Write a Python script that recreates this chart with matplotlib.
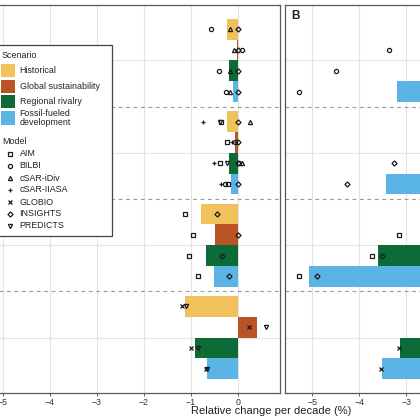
import matplotlib
matplotlib.use("Agg")
import matplotlib.pyplot as plt
from matplotlib.patches import Rectangle
from matplotlib.lines import Line2D

plt.rcParams['font.family'] = ['Liberation Sans', 'DejaVu Sans']

# ---------------- data ----------------
groups = ["G1", "G2", "G3", "G4"]
scenarios = ["Historical", "Global sustainability", "Regional rivalry", "Fossil-fueled\ndevelopment"]
scen_colors = ["#F1C15B", "#BA5427", "#0C6B36", "#5AB4E5"]
models = ["AIM", "BILBI", "cSAR-iDiv", "cSAR-IIASA", "GLOBIO", "INSIGHTS", "PREDICTS"]
model_markers = ["s", "o", "^", "+", "x", "D", "v"]

# Panel A bar values, one row per group, columns = scenarios
bars_a = [
    [-0.23, -0.02, -0.19, -0.11],
    [-0.22, -0.07, -0.19, -0.15],
    [-0.79, -0.49, -0.67, -0.51],
    [-1.13, 0.41, -0.92, -0.645],
]
# Panel B bar values
bars_b = [
    [-0.30, -1.20, -2.00, -3.20],
    [-0.30, -0.20, -1.80, -3.44],
    [-1.20, -1.50, -3.61, -5.08],
    [-1.30, 0.40, -3.13, -3.52],
]

# Panel A points: group index, scenario index, model, value
pa_group = [0, 0, 0, 0, 0, 0, 0, 0, 0, 0, 0, 0,
            1, 1, 1, 1, 1, 1, 1, 1, 1, 1, 1, 1, 1, 1, 1, 1, 1, 1, 1,
            2, 2, 2, 2, 2, 2, 2, 2,
            3, 3, 3, 3, 3, 3, 3, 3]
pa_scen = [0, 0, 0, 1, 1, 1, 2, 2, 2, 3, 3, 3,
           0, 0, 0, 0, 0, 1, 1, 1, 1, 2, 2, 2, 2, 2, 2, 3, 3, 3, 3,
           0, 0, 1, 1, 2, 2, 3, 3,
           0, 0, 1, 1, 2, 2, 3, 3]
pa_model = ["BILBI", "cSAR-iDiv", "INSIGHTS",
            "cSAR-iDiv", "INSIGHTS", "BILBI",
            "BILBI", "cSAR-iDiv", "INSIGHTS",
            "BILBI", "cSAR-iDiv", "INSIGHTS",
            "cSAR-IIASA", "PREDICTS", "AIM", "INSIGHTS", "cSAR-iDiv",
            "AIM", "cSAR-IIASA", "BILBI", "INSIGHTS",
            "cSAR-IIASA", "AIM", "PREDICTS", "INSIGHTS", "BILBI", "cSAR-iDiv",
            "cSAR-IIASA", "BILBI", "AIM", "INSIGHTS",
            "AIM", "INSIGHTS", "AIM", "INSIGHTS", "AIM", "INSIGHTS", "AIM", "INSIGHTS",
            "GLOBIO", "PREDICTS", "GLOBIO", "PREDICTS", "GLOBIO", "PREDICTS", "GLOBIO", "PREDICTS"]
pa_value = [-0.58, -0.16, 0.00,
            -0.08, 0.00, 0.09,
            -0.40, -0.16, 0.01,
            -0.26, -0.16, 0.00,
            -0.74, -0.37, -0.35, 0.00, 0.26,
            -0.24, -0.13, -0.06, 0.00,
            -0.51, -0.38, -0.23, 0.00, 0.03, 0.10,
            -0.35, -0.28, -0.21, 0.01,
            -1.13, -0.44, -0.96, 0.00, -1.04, -0.33, -0.85, -0.185,
            -1.19, -1.11, 0.23, 0.61, -1.00, -0.85, -0.67, -0.645]

# Panel B points
pb_group = [0, 0, 0, 1, 1, 2, 2, 2, 2, 2, 3, 3]
pb_scen = [1, 2, 3, 2, 3, 1, 2, 2, 3, 3, 2, 3]
pb_model = ["BILBI", "BILBI", "BILBI", "INSIGHTS", "INSIGHTS",
            "AIM", "AIM", "INSIGHTS", "AIM", "INSIGHTS", "GLOBIO", "GLOBIO"]
pb_value = [-3.37, -4.50, -5.28, -3.27, -4.26,
            -3.16, -3.72, -3.51, -5.29, -4.89, -3.15, -3.53]

xticks_a = [-5, -4, -3, -2, -1, 0]
xticks_b = [-5, -4, -3]
xlabel = "Relative change per decade (%)"

# ---------------- figure ----------------
W = H = 420
fig = plt.figure(figsize=(4.2, 4.2), dpi=100)
fig.patch.set_facecolor("white")


def fx(px):
    return px / W


def fy(py):
    return 1 - py / H


top_px, bot_px = 5, 393
offsets = [-0.3375, -0.1125, 0.1125, 0.3375]
bar_h = 0.225
marker_of = dict(zip(models, model_markers))


def style_axes(ax, xlim, xticks):
    ax.set_xlim(*xlim)
    ax.set_ylim(4.6, 0.4)
    ax.set_xticks(xticks)
    ax.set_xticklabels([("\u2212%d" % -t) if t < 0 else str(t) for t in xticks])
    ax.set_yticks([1, 2, 3, 4])
    ax.set_yticklabels([])
    ax.tick_params(axis="y", length=0)
    ax.tick_params(axis="x", length=2.2, width=0.6, color="#444444", pad=1.5,
                   labelsize=6.3, labelcolor="#333333")
    ax.grid(True, color="#e3e3e3", lw=0.8, zorder=0)
    ax.set_axisbelow(True)
    for s in ax.spines.values():
        s.set_color("#595959")
        s.set_linewidth(0.9)
    for b in [1.5, 2.5, 3.5]:
        ax.axhline(b, color="#9a9a9a", lw=0.8, ls=(0, (3.5, 3.2)), zorder=1)


def draw_panel(ax, bars, g_list, s_list, m_list, v_list):
    for gi in range(len(groups)):
        for si in range(len(scenarios)):
            ax.barh(gi + 1 + offsets[si], bars[gi][si], height=bar_h,
                    color=scen_colors[si], edgecolor="none", zorder=2)
    for g, s, m, v in zip(g_list, s_list, m_list, v_list):
        mk = marker_of[m]
        ms = 2.6 if mk == "D" else 3.0
        ax.plot([v], [g + 1 + offsets[s]], marker=mk, ms=ms, mew=0.9,
                mfc="none", mec="#1a1a1a", ls="none", zorder=3)


ppu = 47.0  # pixels per unit on both panels

# Panel A
a_xlim = (-5.3, 0.89)
a_left_px = -11.3
axA = fig.add_axes([fx(a_left_px), fy(bot_px), (a_xlim[1] - a_xlim[0]) * ppu / W,
                    (bot_px - top_px) / H])
style_axes(axA, a_xlim, xticks_a)
draw_panel(axA, bars_a, pa_group, pa_scen, pa_model, pa_value)

# Panel B
b_xlim = (-5.58, 0.5)
b_left_px = 285
axB = fig.add_axes([fx(b_left_px), fy(bot_px), (b_xlim[1] - b_xlim[0]) * ppu / W,
                    (bot_px - top_px) / H])
style_axes(axB, b_xlim, xticks_b)
axB.set_xticks([-2, -1, 0], minor=True)
axB.xaxis.grid(True, which="minor", color="#e3e3e3", lw=0.8)
draw_panel(axB, bars_b, pb_group, pb_scen, pb_model, pb_value)

fig.text(fx(295), fy(16), "B", fontsize=8.5, fontweight="bold", ha="center",
         va="center", color="#222222")
fig.text(fx(271.5), fy(411), xlabel, fontsize=8.0, ha="center", va="center",
         color="#222222")

# ---------------- legend ----------------
fs_leg = 6.4
fig.patches.append(Rectangle((fx(-5), fy(236)), fx(117), (236 - 45) / H,
                             transform=fig.transFigure, facecolor="white",
                             edgecolor="#444444", lw=0.9, zorder=10))
fig.text(fx(2), fy(55), "Scenario", fontsize=fs_leg, va="center", ha="left",
         color="#222222", zorder=11)
key_centers = [70.5, 86.5, 101.5, 118]
for si, (lab, col) in enumerate(zip(scenarios, scen_colors)):
    yc = key_centers[si]
    fig.patches.append(Rectangle((fx(1), fy(yc + 6.8)), fx(14), 13.6 / H,
                                 transform=fig.transFigure, facecolor=col,
                                 edgecolor="none", zorder=11))
    fig.text(fx(19.5), fy(yc), lab, fontsize=fs_leg, va="center", ha="left",
             color="#222222", linespacing=0.95, zorder=11)
fig.text(fx(2), fy(142), "Model", fontsize=fs_leg, va="center", ha="left",
         color="#222222", zorder=11)
for mi, (m, mk) in enumerate(zip(models, model_markers)):
    yc = 154 + 12 * mi
    ms = 2.6 if mk == "D" else 3.0
    fig.lines.append(Line2D([fx(10)], [fy(yc)], marker=mk, ms=ms, mew=0.9,
                            mfc="none", mec="#1a1a1a", ls="none",
                            transform=fig.transFigure, zorder=12))
    fig.text(fx(19.5), fy(yc), m, fontsize=fs_leg, va="center", ha="left",
             color="#222222", zorder=11)

fig.savefig("out.png", dpi=100, facecolor="white")
